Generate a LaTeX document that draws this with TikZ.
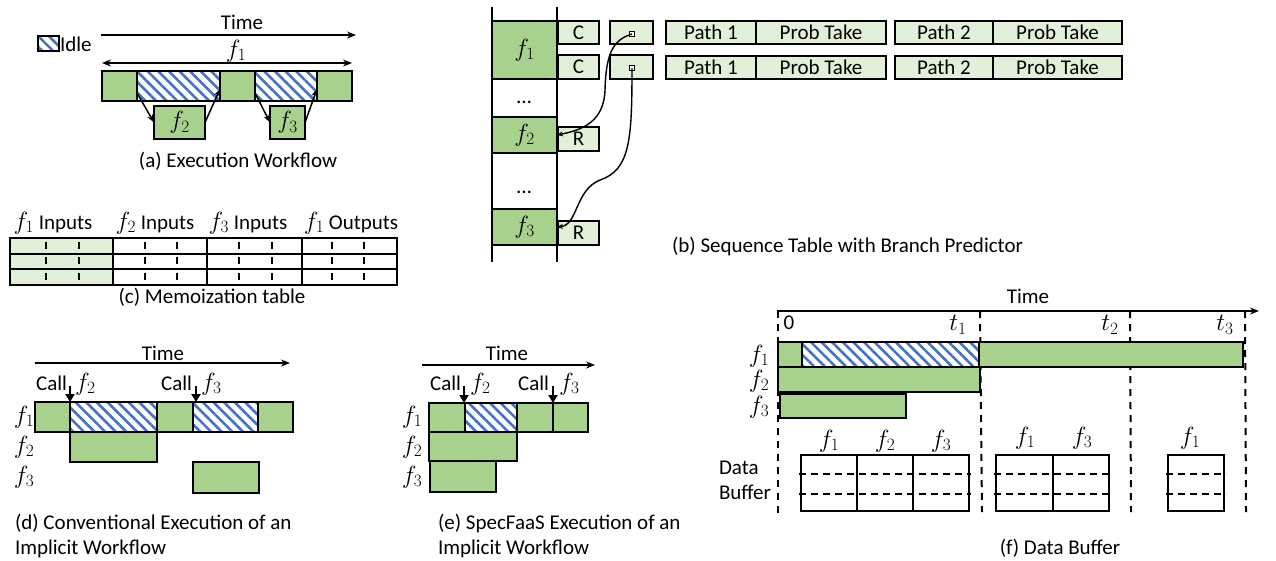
\documentclass[tikz,border=0pt]{standalone}
\usepackage{fontspec}
\setmainfont{Carlito}
\usetikzlibrary{arrows.meta,patterns.meta,calc}
\definecolor{gfill}{HTML}{A9D18E}
\definecolor{lgfill}{HTML}{E2F0D9}
\definecolor{hblue}{HTML}{4472C4}
\newcommand\fv[1]{{\fontsize{24}{24}\selectfont$f_{#1}$}}
\newcommand\tv[1]{{\fontsize{24}{24}\selectfont$t_{#1}$}}
\tikzset{
  every node/.style={inner sep=0pt, outer sep=0pt, font=\fontsize{21}{25}\selectfont},
  bar/.style={draw, line width=2.4pt, fill=gfill},
  idle/.style={draw, line width=2.4pt, pattern={Lines[angle=135,distance=7.5pt,line width=2.6pt]}, pattern color=hblue},
  cell/.style={draw, line width=2pt, fill=lgfill},
  plain/.style={draw, line width=2pt},
  timearrow/.style={-{Stealth[length=9pt,width=7pt]}, line width=1.4pt},
  dblarrow/.style={{Stealth[length=9pt,width=7pt]}-{Stealth[length=9pt,width=7pt]}, line width=1.4pt},
  flowarr/.style={-{Stealth[length=8pt,width=6pt]}, line width=1.5pt},
  callarr/.style={-{Triangle[length=8pt,width=9pt]}, line width=2.2pt},
  ptrarr/.style={-{Stealth[length=6pt,width=5pt]}, line width=1.4pt},
  vdash/.style={line width=2pt, dash pattern=on 7pt off 6pt},
  bufdash/.style={line width=1.8pt, dash pattern=on 7pt off 5pt},
  tdash/.style={line width=1.6pt, dash pattern=on 7pt off 8.5pt, dash phase=12},
  caption/.style={font=\fontsize{21}{25}\selectfont, align=left},
  ptr/.style={draw, line width=1.5pt, fill=white, minimum size=5pt},
}
\newcommand\rb[7]{\node[#2, anchor=north west, minimum width={(#5-#3)*1pt}, minimum height={(#6-#4)*1pt}] (#1) at (#3,#4) {#7};}
\begin{document}
\begin{tikzpicture}[x=1pt,y=-1pt]
\useasboundingbox (0,0) rectangle (1276,560);
% ===== (a) =====
\rb{leg}{idle}{38}{36}{59}{51}{}
\node[anchor=west] (legtxt) at (60,44) {Idle};
\coordinate (ta1) at (101,35); \coordinate (ta2) at (356,35);
\draw[timearrow] (ta1) -- (ta2);
\node (timea) at (242,22) {Time};
\coordinate (fa1) at (102,63); \coordinate (fa2) at (352,63);
\draw[dblarrow] (fa1) -- (fa2);
\node (f1a) at (236,51) {\fv1};
\rb{a1}{bar}{102}{71}{137}{101}{}
\rb{a2}{idle}{137}{71}{220}{101}{}
\rb{a3}{bar}{220}{71}{255}{101}{}
\rb{a4}{idle}{255}{71}{317}{101}{}
\rb{a5}{bar}{317}{71}{352}{101}{}
\rb{af2}{bar}{154}{106}{205}{139}{\fv2}
\rb{af3}{bar}{270}{106}{305}{139}{\fv3}
\draw[flowarr] ($(a2.south west)+(0,-8)$) -- (af2.west);
\draw[flowarr] (af2.east) -- ($(a2.south east)+(0,-12)$);
\draw[flowarr] ($(a4.south west)+(0,-8)$) -- (af3.west);
\draw[flowarr] (af3.east) -- ($(a4.south east)+(0,-12)$);
\node[caption] (capa) at (238,161) {(a) Execution Workflow};
% ===== (c) =====
\node (h1) at (53,223) {\fv1 Inputs};
\node (h2) at (155,223) {\fv2 Inputs};
\node (h3) at (248,223) {\fv3 Inputs};
\node (h4) at (351,223) {\fv1 Outputs};
\rb{g1}{cell}{10}{238}{113}{285}{}
\rb{g2}{plain}{113}{238}{207}{285}{}
\rb{g3}{plain}{207}{238}{302}{285}{}
\rb{g4}{plain}{302}{238}{397}{285}{}
\draw[line width=2pt] (10,254) -- (397,254) (10,269) -- (397,269);
\foreach \xx in {46,79,145,177,239,272,332,364}{
  \draw[tdash] (\xx,238) -- (\xx,285);
}
\node[caption] (capc) at (212,297) {(c) Memoization table};
% ===== (d) =====
\node (timed) at (163,353) {Time};
\coordinate (td1) at (35,363); \coordinate (td2) at (290,363);
\draw[timearrow] (td1) -- (td2);
\rb{d1}{bar}{35}{402}{70}{432}{}
\rb{d2}{idle}{70}{402}{157}{432}{}
\rb{d3}{bar}{157}{402}{193}{432}{}
\rb{d4}{idle}{193}{402}{258}{432}{}
\rb{d5}{bar}{258}{402}{293}{432}{}
\rb{df2}{bar}{70}{432}{157}{462}{}
\rb{df3}{bar}{193}{462}{259}{493}{}
\node (dl1) at (24,417) {\fv1};
\node (dl2) at (24,447) {\fv2};
\node (dl3) at (24,477) {\fv3};
\node[anchor=east] (dc1) at (67,383) {Call};
\node[anchor=west] (dc1f) at (75,384) {\fv2};
\coordinate (dca1) at (70,386);
\draw[callarr] (dca1) -- (dca1 |- d2.north);
\node[anchor=east] (dc2) at (192,383) {Call};
\node[anchor=west] (dc2f) at (201,384) {\fv3};
\coordinate (dca2) at (196,386);
\draw[callarr] (dca2) -- (dca2 |- d4.north);
\node[caption, anchor=west] (capd) at (15,536) {(d) Conventional Execution of an\\Implicit Workflow};
% ===== (e) =====
\node (timee) at (507,353) {Time};
\coordinate (te1) at (422,365); \coordinate (te2) at (595,365);
\draw[timearrow] (te1) -- (te2);
\rb{e1}{bar}{429}{403}{465}{432}{}
\rb{e2}{idle}{465}{403}{517}{432}{}
\rb{e3}{bar}{517}{403}{553}{432}{}
\rb{e4}{bar}{553}{403}{588}{432}{}
\rb{ef2}{bar}{429}{432}{517}{461}{}
\rb{ef3}{bar}{430}{461}{496}{492}{}
\node (el1) at (412,417) {\fv1};
\node (el2) at (412,447) {\fv2};
\node (el3) at (412,477) {\fv3};
\node[anchor=east] (ec1) at (461,383) {Call};
\node[anchor=west] (ec1f) at (470,384) {\fv2};
\coordinate (eca1) at (464,386);
\draw[callarr] (eca1) -- (eca1 |- e2.north);
\node[anchor=east] (ec2) at (549,383) {Call};
\node[anchor=west] (ec2f) at (559,384) {\fv3};
\coordinate (eca2) at (553,386);
\draw[callarr] (eca2) -- (eca2 |- e4.north);
\node[caption, anchor=west] (cape) at (438,536) {(e) SpecFaaS Execution of an\\Implicit Workflow};
% ===== (f) =====
\node (timef) at (1028,296) {Time};
\coordinate (tf1) at (777,311); \coordinate (tf2) at (1259,311);
\draw[timearrow] (tf1) -- (tf2);
\draw[vdash] (778,311) -- (778,513);
\draw[vdash] (980,311) -- (982,512);
\draw[vdash] (1130,311) -- (1131,512);
\draw[vdash] (1245,311) -- (1246,512);
\node (z0) at (789,323) {0};
\node (t1) at (958,325) {\tv1};
\node (t2) at (1110,325) {\tv2};
\node (t3) at (1225,325) {\tv3};
\rb{fb1}{bar}{778}{342}{802}{367}{}
\rb{fb2}{idle}{802}{342}{979}{367}{}
\rb{fb3}{bar}{979}{342}{1243}{367}{}
\rb{ff2}{bar}{778}{367}{980}{392}{}
\rb{ff3}{bar}{780}{394}{906}{418}{}
\node (fl1) at (759,356) {\fv1};
\node (fl2) at (759,381) {\fv2};
\node (fl3) at (759,407) {\fv3};
\node[caption, anchor=west] (dbuf) at (719,480) {Data\\Buffer};
% buffers
\rb{b11}{plain}{801}{455}{857}{511}{}
\rb{b12}{plain}{857}{455}{913}{511}{}
\rb{b13}{plain}{913}{455}{969}{511}{}
\rb{b21}{plain}{996}{455}{1053}{511}{}
\rb{b22}{plain}{1053}{455}{1109}{511}{}
\rb{b31}{plain}{1168}{455}{1224}{511}{}
\foreach \yy in {474,494}{
  \draw[bufdash] (799,\yy) -- (971,\yy);
  \draw[bufdash] (994,\yy) -- (1111,\yy);
  \draw[bufdash] (1166,\yy) -- (1226,\yy);
}
\node (bl11) at (829,441) {\fv1};
\node (bl12) at (885,441) {\fv2};
\node (bl13) at (941,441) {\fv3};
\node (bl21) at (1025,438) {\fv1};
\node (bl22) at (1082,438) {\fv3};
\node (bl31) at (1190,438) {\fv1};
\node[caption] (capf) at (1060,548) {(f) Data Buffer};
% ===== (b) =====
\draw[line width=1.8pt] (492,7) -- (492,262) (557,7) -- (557,262);
\rb{sf1}{bar}{492}{21}{557}{79}{\fv1}
\rb{sf2}{bar}{492}{117}{557}{153}{\fv2}
\rb{sf3}{bar}{492}{209}{557}{245}{\fv3}
\node (dots1) at (524,102) {…};
\node (dots2) at (524,192) {…};
\rb{c1}{cell}{558}{21}{599}{44}{C}
\rb{c2}{cell}{558}{55}{599}{79}{C}
\rb{r2}{cell}{558}{127}{599}{151}{R}
\rb{r3}{cell}{558}{221}{599}{245}{R}
\rb{p1}{cell}{610}{21}{653}{44}{}
\rb{p2}{cell}{610}{55}{653}{79}{}
\node[ptr] (pt1) at (632,34) {};
\node[ptr] (pt2) at (632,68) {};
\rb{pa11}{cell}{666}{21}{756}{44}{Path 1}
\rb{pb11}{cell}{756}{21}{886}{44}{Prob Take}
\rb{pa21}{cell}{895}{21}{993}{44}{Path 2}
\rb{pb21}{cell}{993}{21}{1122}{44}{Prob Take}
\rb{pa12}{cell}{666}{56}{756}{79}{Path 1}
\rb{pb12}{cell}{756}{56}{886}{79}{Prob Take}
\rb{pa22}{cell}{895}{56}{993}{79}{Path 2}
\rb{pb22}{cell}{993}{56}{1122}{79}{Prob Take}
\draw[ptrarr] (pt1.center) .. controls (612,40) and (606,55) .. (605,90) .. controls (604,122) and (582,130) .. (sf2.east);
\draw[ptrarr] (pt2.center) .. controls (632,140) and (630,170) .. (600,180) .. controls (575,190) and (578,225) .. (sf3.east);
\node[caption, anchor=west] (capb) at (672,247) {(b) Sequence Table with Branch Predictor};
\end{tikzpicture}
\end{document}
